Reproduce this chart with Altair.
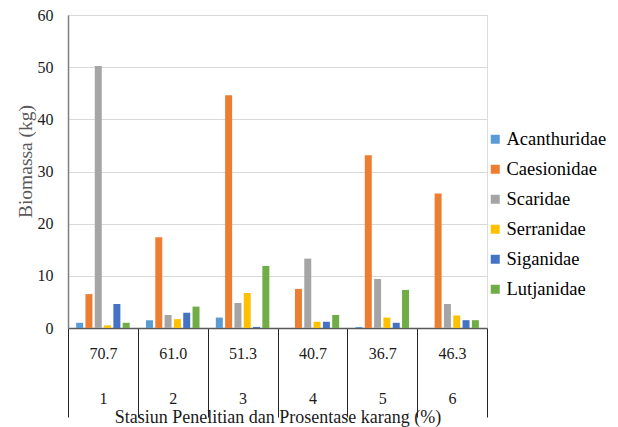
import json

import altair as alt
import pandas as pd

# Sampling stations and their live coral cover (%)
stations = ["1", "2", "3", "4", "5", "6"]
coral_cover = ["70.7", "61.0", "51.3", "40.7", "36.7", "46.3"]

# Fish families and biomass (kg) per station
families = ["Acanthuridae", "Caesionidae", "Scaridae", "Serranidae", "Siganidae", "Lutjanidae"]
acanthuridae = [1.0, 1.5, 2.0, 0.0, 0.2, 0.0]
caesionidae = [6.5, 17.4, 44.6, 7.5, 33.1, 25.8]
scaridae = [50.2, 2.5, 4.8, 13.3, 9.4, 4.6]
serranidae = [0.5, 1.7, 6.7, 1.2, 2.0, 2.4]
siganidae = [4.6, 2.9, 0.2, 1.2, 1.0, 1.5]
lutjanidae = [1.0, 4.1, 11.9, 2.5, 7.3, 1.5]

y_ticks = [0, 10, 20, 30, 40, 50, 60]
colors = ["#5B9BD5", "#ED7D31", "#A5A5A5", "#FFC000", "#4472C4", "#70AD47"]

series = [acanthuridae, caesionidae, scaridae, serranidae, siganidae, lutjanidae]
rows = []
for fam, vals in zip(families, series):
    for st, v in zip(stations, vals):
        rows.append({"station": st, "family": fam, "biomass": v})
df = pd.DataFrame(rows)

# two-line category label: coral cover on top, station number below
label_expr = (
    f"[{json.dumps(coral_cover)}[indexof({json.dumps(stations)}, datum.value)], datum.value]"
)

serif = "'Liberation Serif', 'Times New Roman', 'DejaVu Serif', serif"

chart = (
    alt.Chart(df)
    .mark_bar()
    .encode(
        x=alt.X(
            "station:N",
            sort=stations,
            scale=alt.Scale(paddingInner=0, paddingOuter=0),
            axis=alt.Axis(
                title="Stasiun Penelitian dan Prosentase karang (%)",
                labelExpr=label_expr,
                labelAngle=0,
                labelFont=serif,
                labelFontSize=16,
                labelColor="#1a1a1a",
                labelBaseline="top",
                labelLineHeight=45,
                labelPadding=-72,
                tickBand="extent",
                tickSize=89,
                tickColor="#262626",
                tickWidth=1,
                domainColor="#595959",
                domainWidth=1.5,
                grid=False,
                titleFont=serif,
                titleFontSize=18,
                titleFontWeight="normal",
                titleColor="#1a1a1a",
                titleY=89,
                titleBaseline="middle",
            ),
        ),
        xOffset=alt.XOffset(
            "family:N",
            sort=families,
            scale=alt.Scale(paddingInner=0.25, paddingOuter=0.875),
        ),
        y=alt.Y(
            "biomass:Q",
            scale=alt.Scale(domain=[0, 60]),
            axis=alt.Axis(
                values=y_ticks,
                title="Biomassa (kg)",
                labelFont=serif,
                labelFontSize=16,
                labelColor="#1a1a1a",
                labelPadding=15,
                ticks=False,
                grid=True,
                gridColor="#D9D9D9",
                gridWidth=1.2,
                domainColor="#7F7F7F",
                domainWidth=1.5,
                titleFont=serif,
                titleFontSize=19.5,
                titleFontWeight="normal",
                titleColor="#595959",
                titleX=-43,
                titleY=146,
                titleBaseline="middle",
            ),
        ),
        color=alt.Color(
            "family:N",
            sort=families,
            scale=alt.Scale(domain=families, range=colors),
            legend=alt.Legend(
                title=None,
                orient="none",
                legendX=418,
                legendY=115,
                symbolType="square",
                symbolSize=81,
                symbolStrokeWidth=0,
                labelFont=serif,
                labelFontSize=18.5,
                labelColor="#000000",
                labelOffset=2,
                rowPadding=11,
            ),
        ),
    )
    .properties(
        width=419,
        height=313,
        autosize=alt.AutoSizeParams(type="none"),
        padding={"left": 68, "top": 15, "right": 131, "bottom": 99},
    )
    .configure_view(stroke=None)
    .configure(background="white")
)

chart.save("out.html", embed_options={"renderer": "svg", "actions": False})
